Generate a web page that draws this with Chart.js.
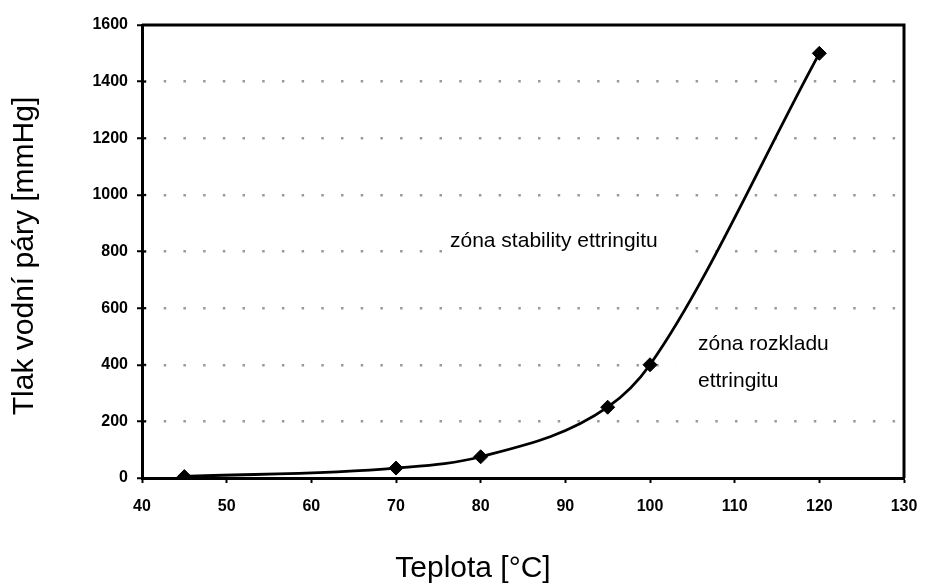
<!DOCTYPE html>
<html lang="cs">
<head>
<meta charset="utf-8">
<title>Tlak vodní páry</title>
<script src="https://cdn.jsdelivr.net/npm/chart.js@4.4.1/dist/chart.umd.min.js"></script>
<style>
  html, body { margin: 0; padding: 0; background: #fff; }
  #wrap { width: 933px; height: 586px; position: relative; }
</style>
</head>
<body>
<div id="wrap"><canvas id="tlakChart"></canvas></div>
<script>
/* ---- data ---- */
const teplota = [45, 70, 80, 95, 100, 120];      // °C
const tlak = [5, 35, 75, 250, 400, 1500];          // mmHg

const xTicks = [40, 50, 60, 70, 80, 90, 100, 110, 120, 130];
const yTicks = [0, 200, 400, 600, 800, 1000, 1200, 1400, 1600];

const xTitle = "Teplota [°C]";
const yTitle = "Tlak vodní páry [mmHg]";
const zonaStability = ["zóna stability ettringitu"];
const zonaRozkladu = ["zóna rozkladu", "ettringitu"];

const FONT = "'Liberation Sans', Arial, sans-serif";

/* ---- popisky, rámeček a názvy os ---- */
const labelsPlugin = {
  id: "labelsPlugin",
  beforeDatasetsDraw(chart) {
    // bílé podklady pod texty zakryjí tečkovanou mřížku
    const { ctx } = chart;
    ctx.save();
    ctx.fillStyle = "#fff";
    ctx.fillRect(445, 226, 243, 36);
    ctx.fillRect(676, 326, 226, 72);
    ctx.restore();
  },
  afterDatasetsDraw(chart) {
    const { ctx, chartArea: a, scales } = chart;
    ctx.save();
    ctx.fillStyle = "#000";
    ctx.textBaseline = "alphabetic";
    ctx.textAlign = "left";
    ctx.font = "21px " + FONT;
    ctx.fillText(zonaStability[0], 450, 247);
    ctx.fillText(zonaRozkladu[0], 698, 350);
    ctx.fillText(zonaRozkladu[1], 698, 387);

    // horní a pravá hrana rámečku
    ctx.strokeStyle = "#000";
    ctx.lineWidth = 3;
    ctx.beginPath();
    ctx.moveTo(a.left, a.top);
    ctx.lineTo(a.right, a.top);
    ctx.lineTo(a.right, a.bottom);
    ctx.stroke();

    // značky na ose y zasahují i dovnitř grafu
    ctx.lineWidth = 2;
    yTicks.forEach(v => {
      const y = scales.y.getPixelForValue(v);
      ctx.beginPath();
      ctx.moveTo(a.left, y);
      ctx.lineTo(a.left + 4, y);
      ctx.stroke();
    });

    // názvy os
    ctx.font = "30px " + FONT;
    ctx.textAlign = "center";
    ctx.textBaseline = "middle";
    ctx.fillText(xTitle, 473, 569);
    ctx.translate(25, 256);
    ctx.rotate(-Math.PI / 2);
    ctx.fillText(yTitle, 0, 0);
    ctx.restore();
  }
};

new Chart(document.getElementById("tlakChart"), {
  type: "line",
  data: {
    datasets: [{
      data: teplota.map((t, i) => ({ x: t, y: tlak[i] })),
      borderColor: "#000",
      backgroundColor: "#000",
      borderWidth: 2.8,
      cubicInterpolationMode: "monotone",
      pointStyle: "rectRot",
      pointRadius: 7,
      pointBorderWidth: 1,
      pointBackgroundColor: "#000",
      pointBorderColor: "#000",
      fill: false
    }]
  },
  options: {
    responsive: true,
    maintainAspectRatio: false,
    animation: false,
    layout: { padding: { top: 25, right: 29, left: 0, bottom: 0 } },
    plugins: {
      legend: { display: false },
      tooltip: { enabled: false }
    },
    scales: {
      x: {
        type: "linear",
        min: 40,
        max: 130,
        afterBuildTicks: s => { s.ticks = xTicks.map(v => ({ value: v })); },
        afterFit: s => { s.height = 108; },
        grid: {
          drawOnChartArea: false,
          tickLength: 5,
          tickWidth: 2,
          tickColor: "#000"
        },
        border: { color: "#000", width: 3 },
        ticks: {
          padding: 14,
          color: "#000",
          font: { family: FONT, size: 16, weight: "bold" },
          maxRotation: 0,
          callback: v => String(v)
        }
      },
      y: {
        min: 0,
        max: 1600,
        afterBuildTicks: s => { s.ticks = yTicks.map(v => ({ value: v })); },
        afterFit: s => { s.width = 142; },
        grid: {
          color: c => (c.tick && (c.tick.value === 0 || c.tick.value === 1600)) ? "rgba(0,0,0,0)" : "#999",
          lineWidth: 2.5,
          tickLength: 5,
          tickWidth: 2,
          tickColor: "#000",
          tickBorderDash: []
        },
        border: { color: "#000", width: 3, dash: [2.5, 17.2] },
        ticks: {
          padding: 9,
          color: "#000",
          font: { family: FONT, size: 16, weight: "bold" },
          callback: v => String(v)
        }
      }
    }
  },
  plugins: [labelsPlugin]
});
</script>
</body>
</html>
